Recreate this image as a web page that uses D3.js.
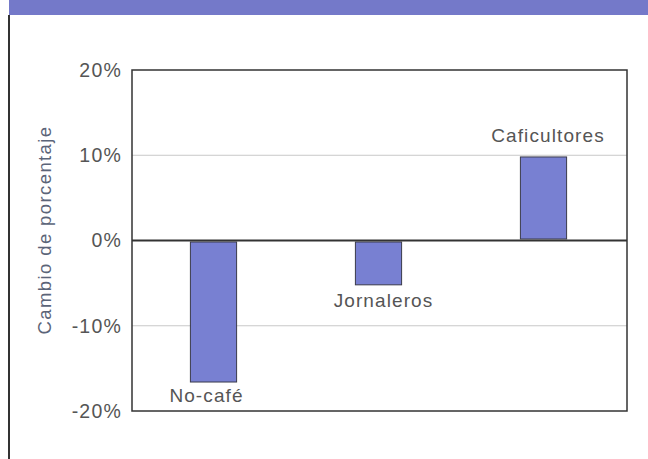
<!DOCTYPE html>
<html><head><meta charset="utf-8">
<script src="https://cdn.jsdelivr.net/npm/d3@7"></script>
<style>body{margin:0;background:#fff;}svg{display:block;font-family:"Liberation Sans",Arial,sans-serif;}</style>
</head><body>
<svg id="c" width="648" height="459"></svg>
<script>
const categories = ["No-café", "Jornaleros", "Caficultores"];
const values = [-16.6, -5.2, 9.8];
const tickValues = [-20, -10, 0, 10, 20];
const tickLabels = ["-20%", "-10%", "0%", "10%", "20%"];
const yTitle = "Cambio de porcentaje";

const svg = d3.select("#c");
const m = {l:132, r:627, t:70, b:411};

// header band & frame
svg.append("rect").attr("x",9).attr("y",0).attr("width",639).attr("height",15).attr("fill","#7479c9");
svg.append("line").attr("x1",9).attr("x2",9).attr("y1",15).attr("y2",459).attr("stroke","#333").attr("stroke-width",2);

const x = d3.scaleBand().domain(categories).range([m.l-1, m.r-1]).paddingInner(0.72).paddingOuter(0.36);
const y = d3.scaleLinear().domain([-20,20]).range([m.b, m.t]);

// gridlines
svg.append("g").selectAll("line").data([-10,10]).join("line")
  .attr("x1",m.l).attr("x2",m.r).attr("y1",d=>y(d)).attr("y2",d=>y(d))
  .attr("stroke","#c8c8c8").attr("stroke-width",1);

// bars
svg.append("g").selectAll("rect").data(values).join("rect")
  .attr("x",(d,i)=>x(categories[i]))
  .attr("width",x.bandwidth())
  .attr("y",d=>d>0?y(d):y(0)+1.5)
  .attr("height",d=>Math.abs(y(d)-y(0))-1.5)
  .attr("fill","#7880d2").attr("stroke","#3a3a4a").attr("stroke-width",1);

// zero line
svg.append("line").attr("x1",m.l).attr("x2",m.r).attr("y1",y(0)).attr("y2",y(0))
  .attr("stroke","#333").attr("stroke-width",2);

// plot frame
svg.append("rect").attr("x",m.l).attr("y",m.t).attr("width",m.r-m.l).attr("height",m.b-m.t)
  .attr("fill","none").attr("stroke","#333").attr("stroke-width",1.5);

// y axis tick labels
const axis = d3.axisLeft(y).tickValues(tickValues).tickSize(0).tickPadding(10)
  .tickFormat((d,i)=>tickLabels[i]);
const ga = svg.append("g").attr("transform",`translate(${m.l},0)`).call(axis);
ga.select(".domain").remove();
ga.selectAll("text").attr("font-size",19.5).attr("letter-spacing",1.2).attr("fill","#555")
  .attr("font-family","Liberation Sans, Arial, sans-serif");

// y title
svg.append("text").attr("transform",`translate(51,230) rotate(-90)`)
  .attr("text-anchor","middle").attr("font-size",18.5).attr("letter-spacing",1.4)
  .attr("fill","#5b6478").text(yTitle);

// category labels
const labelY = [-19.0, -7.8, 11.5];
const labelDx = [-7, 5, 4.5];
svg.append("g").selectAll("text").data(categories).join("text")
  .attr("x",(d,i)=> x(d)+x.bandwidth()/2+labelDx[i])
  .attr("y",(d,i)=>y(labelY[i]))
  .attr("text-anchor","middle").attr("font-size",19).attr("letter-spacing",1.1)
  .attr("fill","#555").text(d=>d);
</script>
</body></html>
